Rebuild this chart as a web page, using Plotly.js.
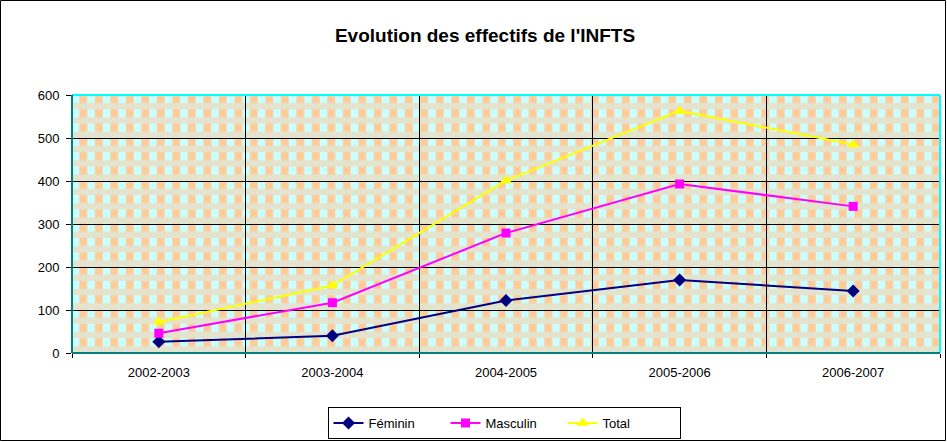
<!DOCTYPE html>
<html>
<head>
<meta charset="utf-8">
<script src="https://cdn.plot.ly/plotly-3.0.1.min.js"></script>
<style>
  body { margin: 0; background: #ffffff; }
  #graph { width: 947px; height: 442px; }
</style>
</head>
<body>
<div id="graph"></div>
<script>
// annees scolaires et effectifs
var annees = ['2002-2003', '2003-2004', '2004-2005', '2005-2006', '2006-2007'];
var feminin = [26, 40, 122, 170, 144];
var masculin = [46, 117, 279, 393, 341];
var total = [72, 157, 401, 563, 485];
var yTicks = [0, 100, 200, 300, 400, 500, 600];

var W = 947, H = 442;
var mL = 72, mR = 7, mT = 95, mB = 89;
var pw = W - mL - mR, ph = H - mT - mB;

// fond a motif facon Excel
var motif = '<svg xmlns="http://www.w3.org/2000/svg" width="' + pw + '" height="' + ph + '">' +
  '<defs><pattern id="p" patternUnits="userSpaceOnUse" width="15.5" height="14.3">' +
  '<rect width="15.5" height="14.3" fill="#E4E3CD"/>' +
  '<rect x="0" y="0" width="7" height="8" fill="#CCFFFF"/>' +
  '<rect x="7.75" y="0" width="7" height="8" fill="#FFCC99"/>' +
  '</pattern></defs><rect width="100%" height="100%" fill="url(#p)"/></svg>';
var motifSrc = 'data:image/svg+xml;base64,' + btoa(motif);

var police = 'Arial, "Liberation Sans", sans-serif';

var trace1 = {
  x: annees, y: feminin, type: 'scatter', mode: 'lines+markers', name: 'Féminin',
  line: { color: '#000080', width: 2 },
  marker: { symbol: 'diamond', size: 10, color: '#000080' }
};
var trace2 = {
  x: annees, y: masculin, type: 'scatter', mode: 'lines+markers', name: 'Masculin',
  line: { color: '#FF00FF', width: 2 },
  marker: { symbol: 'square', size: 9, color: '#FF00FF' }
};
var trace3 = {
  x: annees, y: total, type: 'scatter', mode: 'lines+markers', name: 'Total',
  line: { color: '#FFFF00', width: 2 },
  marker: { symbol: 'triangle-up', size: 11, color: '#FFFF00' }
};

var layout = {
  width: W, height: H,
  margin: { l: mL, r: mR, t: mT, b: mB },
  paper_bgcolor: '#ffffff',
  plot_bgcolor: 'rgba(0,0,0,0)',
  font: { family: police, size: 13, color: '#000000' },
  title: {
    text: "Evolution des effectifs de l'INFTS",
    font: { family: police, size: 19, color: '#000000', weight: 'bold' },
    x: 485 / W, xref: 'container', xanchor: 'center',
    y: 1 - 35 / H, yref: 'container', yanchor: 'middle'
  },
  showlegend: true,
  legend: {
    orientation: 'h',
    xref: 'container', x: 504 / W, xanchor: 'center',
    yref: 'container', y: 1 - 407 / H, yanchor: 'top',
    bordercolor: '#000000', borderwidth: 1,
    bgcolor: '#ffffff',
    font: { family: police, size: 13 },
    entrywidth: 72,
    tracegroupgap: 0,
    traceorder: 'normal'
  },
  xaxis: {
    type: 'category',
    range: [-0.5, 4.5],
    automargin: false,
    tickson: 'boundaries',
    showgrid: true, gridcolor: '#000000', gridwidth: 1,
    showline: false,
    ticks: 'outside', ticklen: 4, tickcolor: '#000000',
    ticklabelstandoff: 10,
    tickfont: { family: police, size: 13 },
    fixedrange: true
  },
  yaxis: {
    range: [0, 600],
    automargin: false,
    tickvals: yTicks,
    showgrid: true, gridcolor: '#000000', gridwidth: 1,
    zeroline: false,
    showline: false,
    ticks: 'outside', ticklen: 5, tickcolor: '#000000',
    ticklabelstandoff: 4,
    tickfont: { family: police, size: 13 },
    fixedrange: true
  },
  images: [{
    source: motifSrc,
    xref: 'paper', yref: 'paper',
    x: 0, y: 1, sizex: 1, sizey: 1,
    xanchor: 'left', yanchor: 'top',
    sizing: 'stretch', layer: 'below'
  }],
  shapes: [
    // cadre du graphique
    { type: 'rect', xref: 'paper', yref: 'paper',
      x0: -mL / pw + 0.5 / pw, x1: 1 + (mR - 1.5) / pw,
      y0: -(mB - 1.5) / ph, y1: 1 + (mT - 0.5) / ph,
      line: { color: '#000000', width: 1 }, layer: 'below' },
    // bordure de la zone de trace
    { type: 'line', xref: 'paper', yref: 'paper', x0: 0, x1: 1, y0: 1, y1: 1,
      line: { color: '#00FFFF', width: 2 }, layer: 'above' },
    { type: 'line', xref: 'paper', yref: 'paper', x0: 1, x1: 1, y0: 0, y1: 1,
      line: { color: '#00FFFF', width: 2 }, layer: 'above' },
    { type: 'line', xref: 'paper', yref: 'paper', x0: 0, x1: 0, y0: 0, y1: 1,
      line: { color: '#008080', width: 2 }, layer: 'above' },
    { type: 'line', xref: 'paper', yref: 'paper', x0: 0, x1: 1, y0: 0, y1: 0,
      line: { color: '#008080', width: 2 }, layer: 'above' }
  ]
};

Plotly.newPlot('graph', [trace1, trace2, trace3], layout, { displayModeBar: false, staticPlot: true });
</script>
</body>
</html>
